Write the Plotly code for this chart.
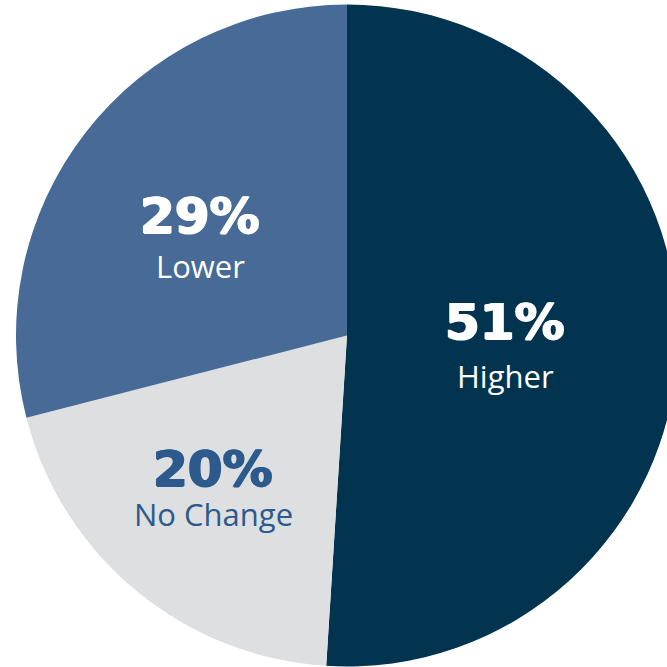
import plotly.graph_objects as go

# Survey split of expected change
categories = ["Higher", "No Change", "Lower"]
shares = [51, 20, 29]

slice_colors = ["#03344F", "#DEDFE1", "#476A96"]
text_colors = ["#FFFFFF", "#2C5A8C", "#FFFFFF"]

# Label anchor points in pixels: (x, percent line y, category line y)
label_px = {
    "Higher": (505, 322, 376),
    "No Change": (213, 469, 514),
    "Lower": (200, 216, 266),
}

W, H = 694, 667
cx, cy, r = 347, 335.5, 331

fig = go.Figure(
    go.Pie(
        labels=categories,
        values=shares,
        sort=False,
        direction="clockwise",
        rotation=0,
        marker=dict(colors=slice_colors, line=dict(width=0)),
        textinfo="none",
        hoverinfo="label+percent",
        showlegend=False,
        domain=dict(
            x=[(cx - r) / W, (cx + r) / W],
            y=[(H - cy - r) / H, (H - cy + r) / H],
        ),
    )
)

for cat, val, tc in zip(categories, shares, text_colors):
    x, y1, y2 = label_px[cat]
    # a thin same-colour shadow thickens the bold figures a little
    heavy = f"1px 0 0 {tc}, -1px 0 0 {tc}, 0 1px 0 {tc}"
    fig.add_annotation(
        x=x / W, y=1 - y1 / H, xref="paper", yref="paper",
        xanchor="center", yanchor="middle",
        text=f"{val}%", showarrow=False,
        font=dict(family="DejaVu Sans", size=50, color=tc, weight="bold",
                  shadow=heavy),
    )
    fig.add_annotation(
        x=x / W, y=1 - y2 / H, xref="paper", yref="paper",
        xanchor="center", yanchor="middle",
        text=cat, showarrow=False,
        font=dict(family="Open Sans", size=31, color=tc),
    )

fig.update_layout(
    width=W, height=H, autosize=False,
    margin=dict(l=0, r=0, t=0, b=0),
    paper_bgcolor="white", plot_bgcolor="white",
)

fig.write_html(
    "out.html",
    config={"displayModeBar": False},
    post_script="document.body.style.margin='0';document.body.style.overflow='hidden';",
)
